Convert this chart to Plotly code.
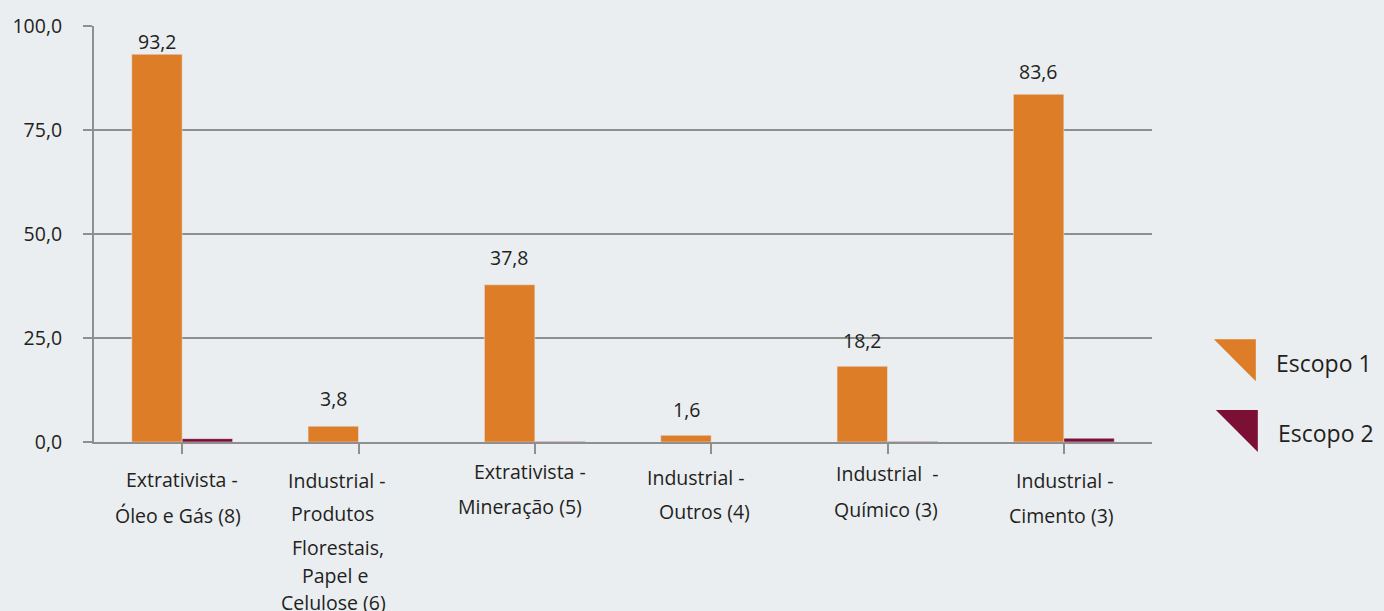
import plotly.graph_objects as go

# Emissões por setor: Escopo 1 e Escopo 2
category_lines = [
    ["Extrativista -", "Óleo e Gás (8)"],
    ["Industrial -", "Produtos", "Florestais,", "Papel e", "Celulose (6)"],
    ["Extrativista -", "Mineração (5)"],
    ["Industrial -", "Outros (4)"],
    ["Industrial  -", "Químico (3)"],
    ["Industrial -", "Cimento (3)"],
]
escopo1 = [93.2, 3.8, 37.8, 1.6, 18.2, 83.6]
escopo2 = [0.8, 0.0, 0.1, 0.0, 0.1, 0.9]
series_names = ["Escopo 1", "Escopo 2"]
y_ticks = [0, 25, 50, 75, 100]

ORANGE = "#DE7D28"
WINE = "#7B1034"
GRID = "#8F8F8F"
TEXT = "#231F20"
BG = "#EAEEF1"
FONT = "Open Sans"
FS = 19.5

# label line placement: pixels below the zero line, horizontal nudge per line
line_offsets = [
    [37, 73],
    [38, 71, 105, 133, 160],
    [29, 64],
    [35, 69],
    [31, 67],
    [38, 73],
]
line_nudges = [
    [0, -4],
    [-22, -26, -21, -24, -25],
    [-5, -15],
    [-15, -7],
    [0, -2],
    [1, -2],
]
# gap between bar top and its value label, pixels
value_label_gaps = [13, 28, 27, 26, 26, 23]

x = list(range(len(escopo1)))

fig = go.Figure()
fig.add_trace(go.Bar(
    x=x, y=escopo1, name=series_names[0], marker_color=ORANGE,
))
fig.add_trace(go.Bar(
    x=x, y=escopo2, name=series_names[1], marker_color=WINE,
))

annotations = []
for i, v in enumerate(escopo1):
    annotations.append(dict(
        x=i, xref="x", y=v, yref="y", yanchor="middle",
        xshift=-25, yshift=value_label_gaps[i],
        text=f"{v:.1f}".replace(".", ","), showarrow=False,
        font=dict(family=FONT, size=FS, color=TEXT),
    ))

for i, lines in enumerate(category_lines):
    for j, line in enumerate(lines):
        annotations.append(dict(
            x=i, xref="x", y=0, yref="paper", yanchor="middle",
            yshift=-line_offsets[i][j], xshift=line_nudges[i][j],
            text=line, showarrow=False,
            font=dict(family=FONT, size=FS, color=TEXT),
        ))

# legend drawn as right triangles with labels
legend_shapes = [
    dict(type="path", xref="paper", yref="paper",
         path="M 1.0585 0.2470 L 1.0981 0.2470 L 1.0981 0.1463 Z",
         fillcolor=ORANGE, line=dict(width=0)),
    dict(type="path", xref="paper", yref="paper",
         path="M 1.0604 0.0767 L 1.1000 0.0767 L 1.1000 -0.0240 Z",
         fillcolor=WINE, line=dict(width=0)),
]
annotations.append(dict(x=1.1151, xref="paper", y=0.1894, yref="paper",
                        xanchor="left", yanchor="middle", text=series_names[0],
                        showarrow=False, font=dict(family=FONT, size=23, color=TEXT)))
annotations.append(dict(x=1.1170, xref="paper", y=0.0216, yref="paper",
                        xanchor="left", yanchor="middle", text=series_names[1],
                        showarrow=False, font=dict(family=FONT, size=23, color=TEXT)))

fig.update_layout(
    width=1384, height=611,
    margin=dict(l=92, r=232, t=25, b=169),
    paper_bgcolor=BG, plot_bgcolor=BG,
    barmode="group", bargap=0.428, bargroupgap=0,
    separators=",.",
    showlegend=False,
    font=dict(family=FONT, size=FS, color=TEXT),
    annotations=annotations,
    shapes=legend_shapes,
    xaxis=dict(
        range=[-0.5, len(x) - 0.5], tickvals=x, showticklabels=False,
        showline=True, linecolor=GRID, linewidth=2,
        ticks="outside", tickson="boundaries", ticklen=10, tickwidth=2,
        tickcolor=GRID, showgrid=False, zeroline=False,
    ),
    yaxis=dict(
        range=[0, 100], tickvals=y_ticks, tickformat=".1f",
        showline=True, linecolor=GRID, linewidth=2,
        ticks="outside", ticklen=9, tickwidth=2, tickcolor=GRID,
        showgrid=True, gridcolor=GRID, gridwidth=2, zeroline=False,
        ticklabelstandoff=17,
        tickfont=dict(family=FONT, size=FS, color=TEXT),
    ),
)

fig.write_html("out.html")
